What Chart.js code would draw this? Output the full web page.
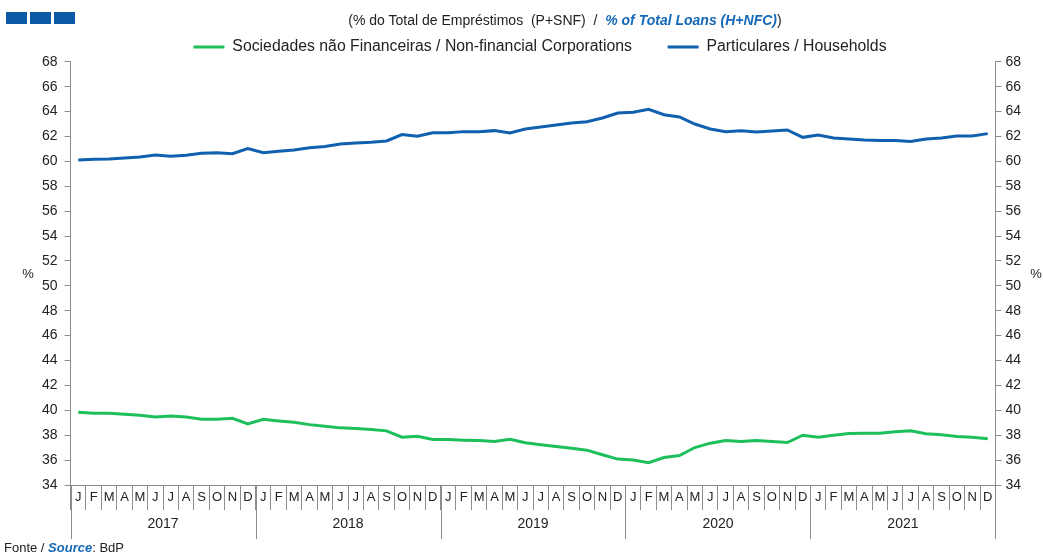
<!DOCTYPE html>
<html>
<head>
<meta charset="utf-8">
<script src="https://cdn.jsdelivr.net/npm/chart.js@4"></script>
<style>
  body{margin:0;background:#fff;font-family:"Liberation Sans",Arial,sans-serif;}
  #wrap{position:relative;width:1043px;height:556px;}
  #myChart{position:absolute;left:0;top:0;}
  .logo{position:absolute;top:12px;height:12px;width:21px;background:#0b5aa6;}
  #title{position:absolute;top:12px;left:0;width:1130px;text-align:center;font-size:14px;color:#222;white-space:pre;}
  #title i{color:#1569b8;font-weight:bold;}
  #src{position:absolute;left:4px;top:540px;font-size:13px;color:#222;}
  #src i{color:#1569b8;font-weight:bold;}
</style>
</head>
<body>
<div id="wrap">
  <canvas id="myChart" width="1043" height="556"></canvas>
  <div class="logo" style="left:6px"></div>
  <div class="logo" style="left:30px"></div>
  <div class="logo" style="left:54px"></div>
  <div id="title">(% do Total de Empréstimos  (P+SNF)  /  <i>% of Total Loans (H+NFC)</i>)</div>
  <div id="src">Fonte / <i>Source</i>:  BdP</div>
</div>
<script>
// months Jan 2017 .. Dec 2021
const years=["2017","2018","2019","2020","2021"];
const monthLetters=["J","F","M","A","M","J","J","A","S","O","N","D"];
const labels=[];
years.forEach(function(){ monthLetters.forEach(function(m){ labels.push(m); }); });

// non-financial corporations, % of total loans
const nfc=[39.84,39.76,39.76,39.68,39.60,39.47,39.55,39.47,39.28,39.28,39.36,38.90,
           39.28,39.15,39.04,38.85,38.72,38.59,38.53,38.45,38.35,37.84,37.92,37.65,
           37.65,37.60,37.57,37.49,37.68,37.39,37.23,37.09,36.96,36.80,36.43,36.08,
           36.00,35.79,36.21,36.37,37.01,37.36,37.57,37.49,37.57,37.49,37.41,38.00,
           37.84,38.00,38.13,38.16,38.16,38.27,38.35,38.11,38.03,37.89,37.84,37.71];
// households
const households=[60.12,60.17,60.20,60.28,60.36,60.52,60.41,60.49,60.65,60.70,60.62,61.03,
                  60.70,60.81,60.92,61.10,61.19,61.40,61.48,61.53,61.64,62.15,62.02,62.30,
                  62.30,62.39,62.39,62.47,62.28,62.60,62.76,62.92,63.08,63.19,63.49,63.89,
                  63.94,64.18,63.75,63.57,63.00,62.60,62.39,62.47,62.36,62.44,62.52,61.93,
                  62.12,61.88,61.80,61.72,61.67,61.67,61.59,61.80,61.88,62.04,62.04,62.23];

const green="#1dbf5b";
const blue="#1060b0";
const axisGrey="#8c8c8c";
const fam="'Liberation Sans', Arial, sans-serif";

// month letters, year labels + long separators, and the "%" unit labels
const extras={
  id:"extras",
  afterLayout(chart){
    // legend sits a bit right of the plot centre and a little lower in the original
    const lg=chart.legend;
    lg.left+=10; lg.right+=10;
    lg.top+=3; lg.bottom+=3;
  },
  afterDraw(chart){
    const c=chart.ctx, x=chart.scales.x, y=chart.scales.y;
    const half=(x.getPixelForValue(1)-x.getPixelForValue(0))/2;
    c.save();
    c.fillStyle="#222";
    c.textAlign="center"; c.textBaseline="middle";
    c.font="13px "+fam;
    labels.forEach(function(m,i){
      c.fillText(m,x.getPixelForValue(i),x.top+12);
    });
    c.strokeStyle=axisGrey; c.lineWidth=1;
    for(let k=0;k<=years.length;k++){
      const px=Math.round(x.getPixelForValue(k*12)-half)+0.5;
      c.beginPath(); c.moveTo(px,x.top); c.lineTo(px,x.top+54); c.stroke();
    }
    c.font="14px "+fam;
    years.forEach(function(yr,k){
      const a=x.getPixelForValue(k*12), b=x.getPixelForValue(k*12+11);
      c.fillText(yr,(a+b)/2,x.top+39);
    });
    c.font="13px "+fam;
    const mid=(y.top+y.bottom)/2+1;
    c.fillText("%",28,mid);
    c.fillText("%",1036,mid);
    c.restore();
  }
};

const tickFont={family:fam,size:14};

new Chart(document.getElementById("myChart"),{
  type:"line",
  data:{
    labels:labels,
    datasets:[
      {label:"Sociedades não Financeiras / Non-financial Corporations       ",data:nfc,
       borderColor:green,backgroundColor:green,borderWidth:3,pointRadius:0,tension:0},
      {label:"Particulares / Households",data:households,
       borderColor:blue,backgroundColor:blue,borderWidth:3,pointRadius:0,tension:0}
    ]
  },
  options:{
    responsive:false,
    animation:false,
    layout:{padding:{top:31,left:35,right:18,bottom:46}},
    plugins:{
      legend:{
        position:"top",
        labels:{usePointStyle:true,pointStyle:"line",pointStyleWidth:31,boxWidth:31,padding:5,
                color:"#222",font:{family:fam,size:15.8}}
      },
      tooltip:{enabled:false}
    },
    scales:{
      x:{
        type:"category",
        offset:true,
        grid:{display:true,drawOnChartArea:false,drawTicks:true,tickLength:25,color:axisGrey,offset:true},
        border:{color:axisGrey},
        ticks:{display:false,autoSkip:false}
      },
      y:{
        position:"left",min:34,max:68,
        grid:{drawOnChartArea:false,tickLength:6,color:axisGrey},
        border:{color:axisGrey},
        ticks:{stepSize:2,padding:7,color:"#222",font:tickFont}
      },
      y2:{
        position:"right",min:34,max:68,
        grid:{drawOnChartArea:false,tickLength:6,color:axisGrey},
        border:{color:axisGrey},
        ticks:{stepSize:2,padding:4,color:"#222",font:tickFont}
      }
    }
  },
  plugins:[extras]
});
</script>
</body>
</html>
